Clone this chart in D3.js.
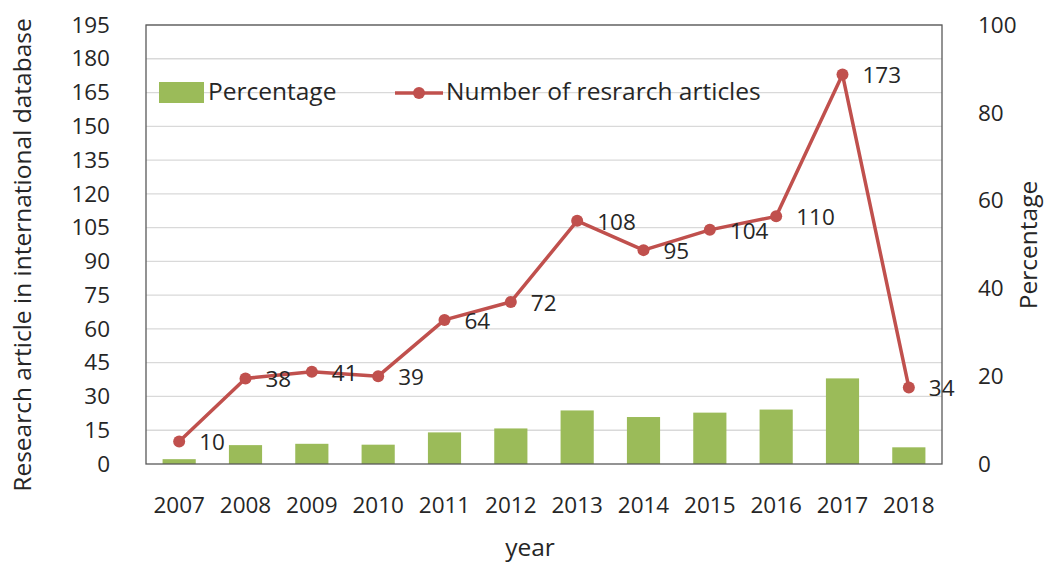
<!DOCTYPE html>
<html><head><meta charset="utf-8">
<script src="https://cdn.jsdelivr.net/npm/d3@7"></script>
<style>body{margin:0;background:#fff}svg{display:block}text{font-family:"Open Sans",sans-serif;fill:#262626}</style>
</head><body><svg id="c" width="1046" height="565"></svg>
<script>
const years = ["2007","2008","2009","2010","2011","2012","2013","2014","2015","2016","2017","2018"];
const articles = [10,38,41,39,64,72,108,95,104,110,173,34];
const percentage = [1.1,4.3,4.6,4.4,7.2,8.1,12.2,10.7,11.7,12.4,19.5,3.8];
const leftTicks = d3.range(0,196,15);
const rightTicks = [0,20,40,60,80,100];

const svg = d3.select("#c");
const L=146,R=942,T=25,B=464;
const x = d3.scaleBand().domain(years).range([L,R]);
const yL = d3.scaleLinear().domain([0,195]).range([B,T]);
const yR = d3.scaleLinear().domain([0,100]).range([B,T]);
const fsNum = 22.5, fsTxt = 24.5;

// gridlines
svg.append("g").selectAll("line").data(leftTicks.slice(1)).join("line")
  .attr("x1",L).attr("x2",R).attr("y1",d=>yL(d)).attr("y2",d=>yL(d))
  .attr("stroke","#d9d9d9").attr("stroke-width",1.3);

// bars
const bw = x.bandwidth()*0.5;
svg.append("g").selectAll("rect").data(percentage).join("rect")
  .attr("x",(d,i)=>x(years[i])+x.bandwidth()/2-bw/2).attr("width",bw)
  .attr("y",d=>yR(d)).attr("height",d=>B-yR(d)).attr("fill","#9bbb59");

// frame
svg.append("rect").attr("x",L).attr("y",T).attr("width",R-L).attr("height",B-T)
  .attr("fill","none").attr("stroke","#595959").attr("stroke-width",1.3);

// line
const cx = (d,i)=>x(years[i])+x.bandwidth()/2;
svg.append("path").datum(articles)
  .attr("d",d3.line().x(cx).y(d=>yL(d)))
  .attr("fill","none").attr("stroke","#c0504d").attr("stroke-width",3.5).attr("stroke-linejoin","round");
svg.append("g").selectAll("circle").data(articles).join("circle")
  .attr("cx",cx).attr("cy",d=>yL(d)).attr("r",6).attr("fill","#c0504d");
svg.append("g").selectAll("text").data(articles).join("text")
  .attr("x",(d,i)=>cx(d,i)+20).attr("y",d=>yL(d)+1).attr("dy","0.35em")
  .attr("font-size",fsNum).text(d=>d);

// axes
const axL = d3.axisLeft(yL).tickValues(leftTicks).tickSize(0).tickPadding(0);
const gL = svg.append("g").attr("transform",`translate(110,0)`).call(axL);
const axR = d3.axisRight(yR).tickValues(rightTicks).tickSize(0).tickPadding(0);
const gR = svg.append("g").attr("transform",`translate(978,0)`).call(axR);
const axB = d3.axisBottom(x).tickSize(0).tickPadding(0);
const gB = svg.append("g").attr("transform",`translate(0,497)`).call(axB);
[gL,gR,gB].forEach(g=>{g.select(".domain").remove();g.selectAll("text").attr("font-size",fsNum).attr("font-family","'Open Sans',sans-serif").attr("fill","#262626");});

// axis titles
svg.append("text").attr("transform","translate(31,255) rotate(-90)").attr("text-anchor","middle")
  .attr("font-size",fsTxt).text("Research article in international database");
svg.append("text").attr("transform","translate(1037,245) rotate(-90)").attr("text-anchor","middle")
  .attr("font-size",fsTxt).text("Percentage");
svg.append("text").attr("x",530).attr("y",556).attr("text-anchor","middle").attr("font-size",fsTxt).text("year");

// legend
svg.append("rect").attr("x",159).attr("y",82).attr("width",45).attr("height",21).attr("fill","#9bbb59");
svg.append("text").attr("x",208).attr("y",91).attr("dy","0.35em").attr("font-size",fsTxt).text("Percentage");
svg.append("line").attr("x1",395).attr("x2",443).attr("y1",93).attr("y2",93).attr("stroke","#c0504d").attr("stroke-width",3.5);
svg.append("circle").attr("cx",419).attr("cy",93).attr("r",6).attr("fill","#c0504d");
svg.append("text").attr("x",446).attr("y",91).attr("dy","0.35em").attr("font-size",fsTxt).text("Number of resrarch articles");
</script></body></html>
